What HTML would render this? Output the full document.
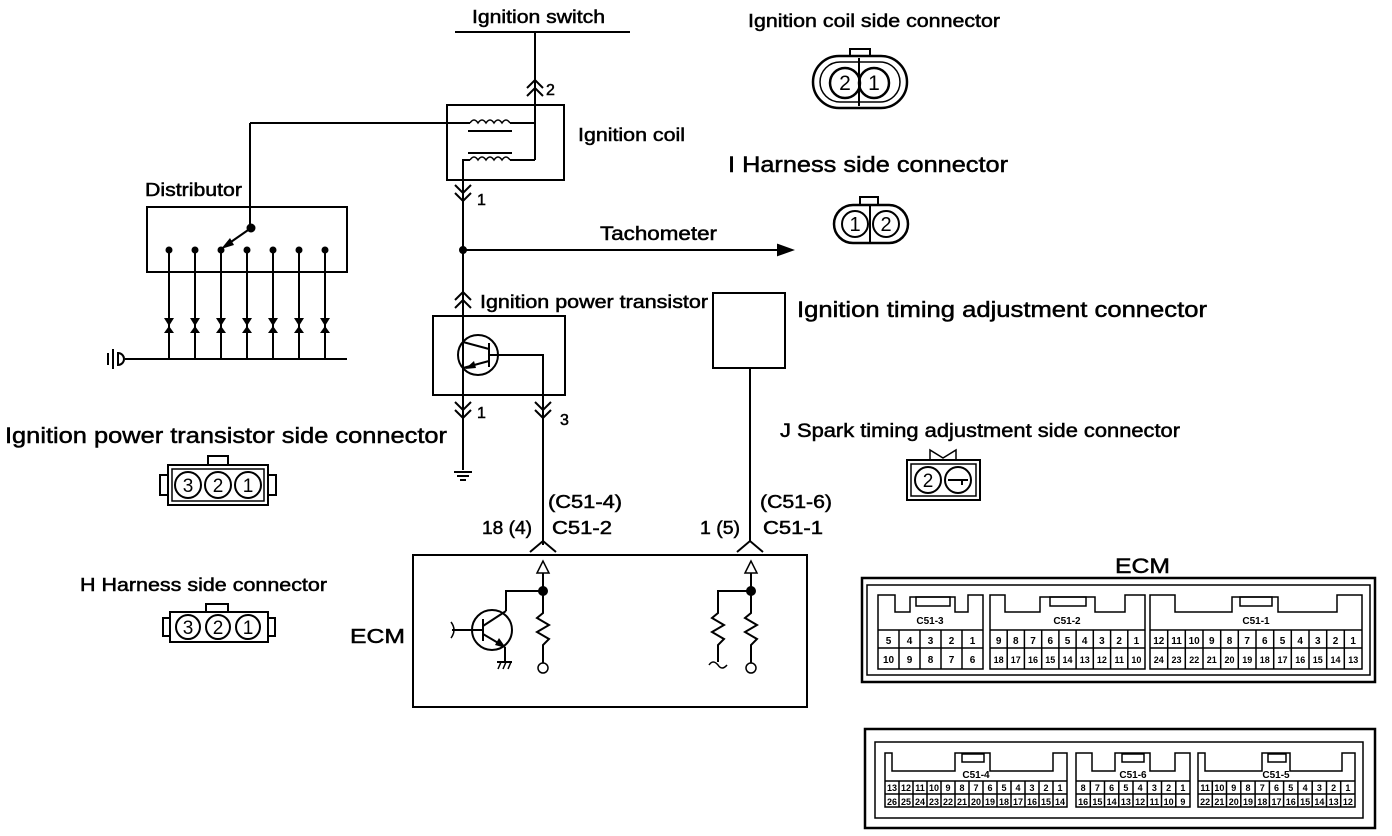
<!DOCTYPE html>
<html><head><meta charset="utf-8"><style>
html,body{margin:0;padding:0;background:#fff}
svg{display:block}
text{font-family:"Liberation Sans",Arial,sans-serif;fill:#000}
.t{stroke:#000;stroke-width:0.5}
.p{font-size:10px;font-weight:bold;text-anchor:middle}
.q{font-size:9px;font-weight:bold;text-anchor:middle}
</style></head><body>
<svg width="1392" height="836" viewBox="0 0 1392 836" xmlns="http://www.w3.org/2000/svg" fill="none" stroke="#000" stroke-width="2">
<g class="t" lengthAdjust="spacingAndGlyphs">
<text x="472" y="23" font-size="18" textLength="133" lengthAdjust="spacingAndGlyphs">Ignition switch</text>
<text x="578" y="141" font-size="18" textLength="107" lengthAdjust="spacingAndGlyphs">Ignition coil</text>
<text x="145" y="196" font-size="18" textLength="97" lengthAdjust="spacingAndGlyphs">Distributor</text>
<text x="600" y="240" font-size="19" textLength="117" lengthAdjust="spacingAndGlyphs">Tachometer</text>
<text x="480" y="308" font-size="18" textLength="228" lengthAdjust="spacingAndGlyphs">Ignition power transistor</text>
<text x="797" y="317" font-size="22" textLength="410" lengthAdjust="spacingAndGlyphs">Ignition timing adjustment connector</text>
<text x="5" y="443" font-size="22" textLength="442" lengthAdjust="spacingAndGlyphs">Ignition power transistor side connector</text>
<text x="780" y="437" font-size="19" textLength="400" lengthAdjust="spacingAndGlyphs">J Spark timing adjustment side connector</text>
<text x="80" y="591" font-size="18" textLength="247" lengthAdjust="spacingAndGlyphs">H Harness side connector</text>
<text x="350" y="643" font-size="20" textLength="55" lengthAdjust="spacingAndGlyphs">ECM</text>
<text x="548" y="508" font-size="18" textLength="74" lengthAdjust="spacingAndGlyphs">(C51-4)</text>
<text x="552" y="534" font-size="18" textLength="60" lengthAdjust="spacingAndGlyphs">C51-2</text>
<text x="482" y="534" font-size="18" textLength="50" lengthAdjust="spacingAndGlyphs">18 (4)</text>
<text x="760" y="508" font-size="18" textLength="72" lengthAdjust="spacingAndGlyphs">(C51-6)</text>
<text x="763" y="534" font-size="18" textLength="60" lengthAdjust="spacingAndGlyphs">C51-1</text>
<text x="700" y="534" font-size="18" textLength="40" lengthAdjust="spacingAndGlyphs">1 (5)</text>
<text x="748" y="27" font-size="18" textLength="252" lengthAdjust="spacingAndGlyphs">Ignition coil side connector</text>
<text x="728" y="172" font-size="22" textLength="280" lengthAdjust="spacingAndGlyphs">I Harness side connector</text>
<text x="1115" y="573" font-size="21" textLength="55" lengthAdjust="spacingAndGlyphs">ECM</text>
<text x="546" y="95" font-size="16">2</text>
<text x="477" y="205" font-size="16">1</text>
<text x="477" y="418" font-size="16">1</text>
<text x="560" y="425" font-size="16">3</text>
</g>
<!-- Ignition switch -->
<line x1="455" y1="32" x2="630" y2="32"/>
<line x1="535" y1="32" x2="535" y2="160"/>
<polyline points="527,88 535,80 543,88"/><polyline points="527,96 535,88 543,96"/>
<!-- coil -->
<rect x="447" y="105" width="117" height="75"/>
<line x1="250" y1="123" x2="470" y2="123"/>
<line x1="510" y1="123" x2="535" y2="123"/>
<path d="M470,123 q4,-6 8,0 q4,-6 8,0 q4,-6 8,0 q4,-6 8,0 q4,-6 8,0" stroke-width="1.5"/>
<line x1="468" y1="131" x2="512" y2="131"/>
<line x1="468" y1="153" x2="512" y2="153"/>
<path d="M470,160 q4,-6 8,0 q4,-6 8,0 q4,-6 8,0 q4,-6 8,0 q4,-6 8,0" stroke-width="1.5"/>
<line x1="510" y1="160" x2="535" y2="160"/>
<polyline points="470,160 463,160 463,470"/>
<polyline points="455,185 463,193 471,185"/><polyline points="455,193 463,201 471,193"/>
<circle cx="463" cy="250" r="3" fill="#000"/>
<line x1="463" y1="250" x2="778" y2="250"/>
<polygon points="778,245 792,250 778,255" fill="#000"/>
<!-- distributor -->
<rect x="147" y="207" width="200" height="65"/>
<line x1="250" y1="123" x2="250" y2="228"/>
<circle cx="251" cy="228" r="3.5" fill="#000"/>
<line x1="251" y1="228" x2="228" y2="244"/>
<polygon points="221,249 230,238 234,245" fill="#000" stroke="none"/>
<g>
<line x1="169" y1="250" x2="169" y2="359"/><line x1="195" y1="250" x2="195" y2="359"/><line x1="221" y1="250" x2="221" y2="359"/><line x1="247" y1="250" x2="247" y2="359"/><line x1="273" y1="250" x2="273" y2="359"/><line x1="299" y1="250" x2="299" y2="359"/><line x1="325" y1="250" x2="325" y2="359"/>
</g>
<g fill="#000" stroke="none">
<circle cx="169" cy="250" r="3.5"/><circle cx="195" cy="250" r="3.5"/><circle cx="221" cy="250" r="3.5"/><circle cx="247" cy="250" r="3.5"/><circle cx="273" cy="250" r="3.5"/><circle cx="299" cy="250" r="3.5"/><circle cx="325" cy="250" r="3.5"/>
<polygon points="164,318 174,318 169,326"/><polygon points="164,333 174,333 169,326"/>
<polygon points="190,318 200,318 195,326"/><polygon points="190,333 200,333 195,326"/>
<polygon points="216,318 226,318 221,326"/><polygon points="216,333 226,333 221,326"/>
<polygon points="242,318 252,318 247,326"/><polygon points="242,333 252,333 247,326"/>
<polygon points="268,318 278,318 273,326"/><polygon points="268,333 278,333 273,326"/>
<polygon points="294,318 304,318 299,326"/><polygon points="294,333 304,333 299,326"/>
<polygon points="320,318 330,318 325,326"/><polygon points="320,333 330,333 325,326"/>
</g>
<line x1="125" y1="359" x2="347" y2="359"/>
<line x1="108" y1="353" x2="108" y2="365"/><line x1="113" y1="349" x2="113" y2="369"/>
<path d="M118,352 L118,366 M118,353 a6,6 0 1 1 0,12" />
<!-- power transistor -->
<polyline points="455,300 463,292 471,300"/><polyline points="455,308 463,300 471,308"/>
<rect x="433" y="316" width="132" height="79"/>
<circle cx="478" cy="355" r="20"/>
<line x1="489" y1="343" x2="489" y2="367"/>
<line x1="463" y1="342" x2="489" y2="349"/>
<line x1="463" y1="368" x2="489" y2="361"/>
<polygon points="465,369 474,361 476,368" fill="#000" stroke="none"/>
<polyline points="489,355 543,355 543,545"/>
<polyline points="455,402 463,410 471,402"/><polyline points="455,410 463,418 471,410"/>
<polyline points="535,402 543,410 551,402"/><polyline points="535,410 543,418 551,410"/>
<line x1="454" y1="472" x2="472" y2="472"/><line x1="457" y1="476" x2="469" y2="476"/><line x1="460" y1="480" x2="466" y2="480"/>
<!-- side connectors left -->
<rect x="168" y="465" width="100" height="40"/>
<rect x="172" y="469" width="92" height="32" stroke-width="1.5"/>
<rect x="208" y="456" width="20" height="9"/>
<rect x="160" y="475" width="8" height="20"/><rect x="268" y="475" width="8" height="20"/>
<circle cx="188" cy="485" r="13"/><circle cx="218" cy="485" r="13"/><circle cx="248" cy="485" r="13"/>
<g font-size="19" stroke="none" text-anchor="middle"><text x="188" y="492">3</text><text x="218" y="492">2</text><text x="248" y="492">1</text></g>
<rect x="170" y="612" width="98" height="30"/>
<rect x="206" y="604" width="22" height="8"/>
<rect x="163" y="618" width="7" height="18"/><rect x="268" y="618" width="7" height="18"/>
<circle cx="188" cy="627" r="12"/><circle cx="218" cy="627" r="12"/><circle cx="248" cy="627" r="12"/>
<g font-size="19" stroke="none" text-anchor="middle"><text x="188" y="634">3</text><text x="218" y="634">2</text><text x="248" y="634">1</text></g>
<!-- ECM main -->
<rect x="413" y="555" width="394" height="152"/>
<polyline points="530,552 543,541 556,552"/>
<polyline points="737,552 750,541 763,552"/>
<polygon points="543,561 537,573 549,573" stroke-width="1.5"/>
<polyline points="543,573 543,613 537,618 549,625 537,632 549,639 543,645 543,663"/>
<circle cx="543" cy="668" r="5" stroke-width="1.5"/>
<circle cx="543" cy="591" r="4" fill="#000"/>
<polyline points="543,591 506,591 506,611"/>
<circle cx="492" cy="630" r="20"/>
<line x1="483" y1="619" x2="483" y2="641"/>
<line x1="483" y1="626" x2="506" y2="611"/>
<line x1="483" y1="634" x2="505" y2="647"/>
<polygon points="506,648 495,645 499,638" fill="#000" stroke="none"/>
<line x1="452" y1="630" x2="483" y2="630"/>
<path d="M451,622 q6,8 0,16" stroke-width="1.5"/>
<line x1="505" y1="647" x2="505" y2="662"/>
<line x1="497" y1="662" x2="512" y2="662"/>
<path d="M498,669 l3,-7 M503,669 l3,-7 M508,669 l3,-7" stroke-width="1.5"/>
<polygon points="751,561 745,573 757,573" stroke-width="1.5"/>
<line x1="750" y1="368" x2="750" y2="541"/>
<polyline points="751,573 751,613 745,618 757,625 745,632 757,639 751,645 751,663"/>
<circle cx="751" cy="668" r="5" stroke-width="1.5"/>
<circle cx="751" cy="591" r="4" fill="#000"/>
<polyline points="751,591 718,591 718,613 712,618 724,625 712,632 724,639 718,645 718,662"/>
<path d="M709,665 q4,-6 9,0 q4,6 9,0" stroke-width="1.5"/>
<!-- ignition timing adjustment -->
<rect x="713" y="293" width="72" height="75"/>
<rect x="907" y="460" width="73" height="40"/>
<rect x="911" y="464" width="65" height="32" stroke-width="1.5"/>
<polyline points="930,460 930,450 943,458 956,450 956,460" stroke-width="1.5"/>
<circle cx="928" cy="480" r="13"/><circle cx="958" cy="480" r="13"/>
<text x="928" y="487" font-size="19" stroke="none" text-anchor="middle">2</text>
<line x1="948" y1="480" x2="968" y2="480"/><line x1="962" y1="480" x2="962" y2="485"/>
<!-- top right connectors -->
<rect x="850" y="49" width="20" height="7"/>
<rect x="813" y="56" width="94" height="52" rx="26" ry="26" stroke-width="2.5"/>
<rect x="820" y="62" width="80" height="40" rx="20" ry="20" stroke-width="1.5"/>
<circle cx="845" cy="83" r="15" stroke-width="2.5"/><circle cx="874" cy="83" r="15" stroke-width="2.5"/>
<line x1="859" y1="58" x2="859" y2="106"/>
<g font-size="21" stroke="none" text-anchor="middle"><text x="845" y="90">2</text><text x="874" y="90">1</text></g>
<rect x="860" y="197" width="18" height="8"/>
<rect x="834" y="205" width="74" height="38" rx="19" ry="19" stroke-width="2.5"/>
<circle cx="855" cy="224" r="13" stroke-width="2"/><circle cx="886" cy="224" r="13" stroke-width="2"/>
<line x1="870" y1="205" x2="870" y2="243"/>
<g font-size="20" stroke="none" text-anchor="middle"><text x="855" y="231">1</text><text x="886" y="231">2</text></g>
<!-- ECM connectors -->
<rect x="862" y="578" width="513" height="104" stroke-width="2.5"/>
<rect x="867" y="585" width="503" height="90" stroke-width="1.5"/>
<g stroke-width="1.5">
<polygon points="878,595 895,595 895,612 910,612 910,597 955,597 955,612 968,612 968,595 983,595 983,669 878,669"/>
<rect x="916" y="597" width="34" height="9"/>
<polygon points="990,595 1005,595 1005,612 1040,612 1040,597 1095,597 1095,612 1125,612 1125,595 1145,595 1145,669 990,669"/>
<rect x="1050" y="597" width="36" height="9"/>
<polygon points="1150,595 1175,595 1175,612 1232,612 1232,597 1278,597 1278,612 1337,612 1337,595 1362,595 1362,669 1150,669"/>
<rect x="1240" y="597" width="32" height="9"/>
<line x1="878" y1="630" x2="983" y2="630"/><line x1="878" y1="648" x2="983" y2="648"/>
<line x1="990" y1="630" x2="1145" y2="630"/><line x1="990" y1="648" x2="1145" y2="648"/>
<line x1="1150" y1="630" x2="1362" y2="630"/><line x1="1150" y1="648" x2="1362" y2="648"/>
<path d="M899,630V669M920,630V669M941,630V669M962,630V669"/>
<path d="M1007.2,630V669M1024.4,630V669M1041.7,630V669M1058.9,630V669M1076.1,630V669M1093.3,630V669M1110.6,630V669M1127.8,630V669"/>
<path d="M1167.7,630V669M1185.3,630V669M1203,630V669M1220.7,630V669M1238.3,630V669M1256,630V669M1273.7,630V669M1291.3,630V669M1309,630V669M1326.7,630V669M1344.3,630V669"/>
</g>
<g stroke="none">
<text class="p" x="930" y="624">C51-3</text><text class="p" x="1067" y="624">C51-2</text><text class="p" x="1256" y="624">C51-1</text>
<text class="p" x="888.5" y="644">5</text><text class="p" x="909.5" y="644">4</text><text class="p" x="930.5" y="644">3</text><text class="p" x="951.5" y="644">2</text><text class="p" x="972.5" y="644">1</text>
<text class="p" x="888.5" y="663">10</text><text class="p" x="909.5" y="663">9</text><text class="p" x="930.5" y="663">8</text><text class="p" x="951.5" y="663">7</text><text class="p" x="972.5" y="663">6</text>
<text class="p" x="998.6" y="644">9</text><text class="p" x="1015.8" y="644">8</text><text class="p" x="1033" y="644">7</text><text class="p" x="1050.3" y="644">6</text><text class="p" x="1067.5" y="644">5</text><text class="p" x="1084.7" y="644">4</text><text class="p" x="1101.9" y="644">3</text><text class="p" x="1119.2" y="644">2</text><text class="p" x="1136.4" y="644">1</text>
<text class="q" x="998.6" y="663">18</text><text class="q" x="1015.8" y="663">17</text><text class="q" x="1033" y="663">16</text><text class="q" x="1050.3" y="663">15</text><text class="q" x="1067.5" y="663">14</text><text class="q" x="1084.7" y="663">13</text><text class="q" x="1101.9" y="663">12</text><text class="q" x="1119.2" y="663">11</text><text class="q" x="1136.4" y="663">10</text>
<text class="p" x="1158.8" y="644">12</text><text class="p" x="1176.5" y="644">11</text><text class="p" x="1194.2" y="644">10</text><text class="p" x="1211.8" y="644">9</text><text class="p" x="1229.5" y="644">8</text><text class="p" x="1247.2" y="644">7</text><text class="p" x="1264.8" y="644">6</text><text class="p" x="1282.5" y="644">5</text><text class="p" x="1300.2" y="644">4</text><text class="p" x="1317.8" y="644">3</text><text class="p" x="1335.5" y="644">2</text><text class="p" x="1353.2" y="644">1</text>
<text class="q" x="1158.8" y="663">24</text><text class="q" x="1176.5" y="663">23</text><text class="q" x="1194.2" y="663">22</text><text class="q" x="1211.8" y="663">21</text><text class="q" x="1229.5" y="663">20</text><text class="q" x="1247.2" y="663">19</text><text class="q" x="1264.8" y="663">18</text><text class="q" x="1282.5" y="663">17</text><text class="q" x="1300.2" y="663">16</text><text class="q" x="1317.8" y="663">15</text><text class="q" x="1335.5" y="663">14</text><text class="q" x="1353.2" y="663">13</text>
</g>
<rect x="865" y="729" width="510" height="99" stroke-width="2.5"/>
<rect x="875" y="742" width="488" height="76" stroke-width="1.5"/>
<g stroke-width="1.5">
<polygon points="885,753 892,753 892,771 955,771 955,753 990,753 990,771 1053,771 1053,753 1067,753 1067,807 885,807"/>
<rect x="962" y="754" width="22" height="8"/>
<polygon points="1076,753 1092,753 1092,771 1115,771 1115,753 1150,753 1150,771 1175,771 1175,753 1190,753 1190,807 1076,807"/>
<rect x="1122" y="754" width="22" height="8"/>
<polygon points="1198,753 1205,753 1205,771 1262,771 1262,753 1290,753 1290,771 1342,771 1342,753 1355,753 1355,807 1198,807"/>
<rect x="1268" y="754" width="18" height="8"/>
<path d="M885,781H1067M885,794H1067M1076,781H1190M1076,794H1190M1198,781H1355M1198,794H1355"/>
<path d="M899,781V807M913,781V807M927,781V807M941,781V807M955,781V807M969,781V807M983,781V807M997,781V807M1011,781V807M1025,781V807M1039,781V807M1053,781V807"/>
<path d="M1090.3,781V807M1104.5,781V807M1118.8,781V807M1133,781V807M1147.3,781V807M1161.5,781V807M1175.8,781V807"/>
<path d="M1212.3,781V807M1226.5,781V807M1240.8,781V807M1255.1,781V807M1269.4,781V807M1283.6,781V807M1297.9,781V807M1312.2,781V807M1326.5,781V807M1340.7,781V807"/>
</g>
<g stroke="none">
<text class="p" x="976" y="778">C51-4</text><text class="p" x="1133" y="778">C51-6</text><text class="p" x="1276" y="778">C51-5</text>
<text class="q" x="892" y="791">13</text><text class="q" x="906" y="791">12</text><text class="q" x="920" y="791">11</text><text class="q" x="934" y="791">10</text><text class="q" x="948" y="791">9</text><text class="q" x="962" y="791">8</text><text class="q" x="976" y="791">7</text><text class="q" x="990" y="791">6</text><text class="q" x="1004" y="791">5</text><text class="q" x="1018" y="791">4</text><text class="q" x="1032" y="791">3</text><text class="q" x="1046" y="791">2</text><text class="q" x="1060" y="791">1</text>
<text class="q" x="892" y="805">26</text><text class="q" x="906" y="805">25</text><text class="q" x="920" y="805">24</text><text class="q" x="934" y="805">23</text><text class="q" x="948" y="805">22</text><text class="q" x="962" y="805">21</text><text class="q" x="976" y="805">20</text><text class="q" x="990" y="805">19</text><text class="q" x="1004" y="805">18</text><text class="q" x="1018" y="805">17</text><text class="q" x="1032" y="805">16</text><text class="q" x="1046" y="805">15</text><text class="q" x="1060" y="805">14</text>
<text class="q" x="1083.1" y="791">8</text><text class="q" x="1097.4" y="791">7</text><text class="q" x="1111.6" y="791">6</text><text class="q" x="1125.9" y="791">5</text><text class="q" x="1140.1" y="791">4</text><text class="q" x="1154.4" y="791">3</text><text class="q" x="1168.6" y="791">2</text><text class="q" x="1182.9" y="791">1</text>
<text class="q" x="1083.1" y="805">16</text><text class="q" x="1097.4" y="805">15</text><text class="q" x="1111.6" y="805">14</text><text class="q" x="1125.9" y="805">13</text><text class="q" x="1140.1" y="805">12</text><text class="q" x="1154.4" y="805">11</text><text class="q" x="1168.6" y="805">10</text><text class="q" x="1182.9" y="805">9</text>
<text class="q" x="1205.1" y="791">11</text><text class="q" x="1219.4" y="791">10</text><text class="q" x="1233.7" y="791">9</text><text class="q" x="1248" y="791">8</text><text class="q" x="1262.2" y="791">7</text><text class="q" x="1276.5" y="791">6</text><text class="q" x="1290.8" y="791">5</text><text class="q" x="1305.1" y="791">4</text><text class="q" x="1319.4" y="791">3</text><text class="q" x="1333.6" y="791">2</text><text class="q" x="1347.9" y="791">1</text>
<text class="q" x="1205.1" y="805">22</text><text class="q" x="1219.4" y="805">21</text><text class="q" x="1233.7" y="805">20</text><text class="q" x="1248" y="805">19</text><text class="q" x="1262.2" y="805">18</text><text class="q" x="1276.5" y="805">17</text><text class="q" x="1290.8" y="805">16</text><text class="q" x="1305.1" y="805">15</text><text class="q" x="1319.4" y="805">14</text><text class="q" x="1333.6" y="805">13</text><text class="q" x="1347.9" y="805">12</text>
</g>
</svg>
</body></html>
